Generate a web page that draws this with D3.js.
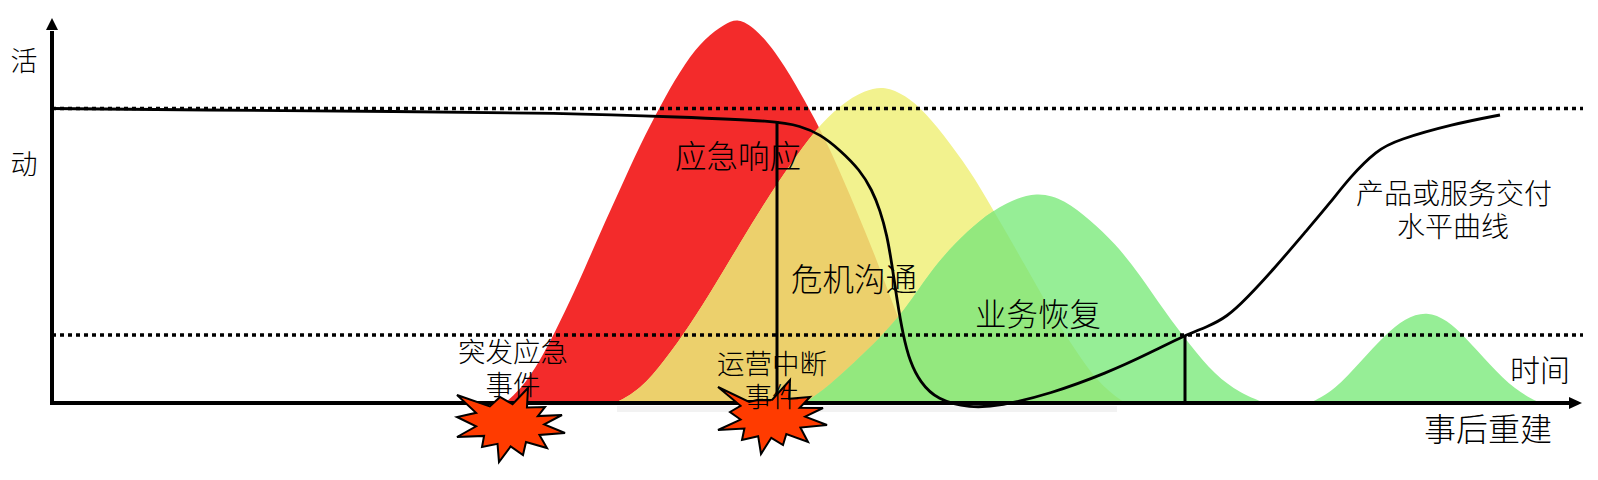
<!DOCTYPE html>
<html>
<head>
<meta charset="utf-8">
<script src="https://cdn.jsdelivr.net/npm/d3@7"></script>
<style>
  html, body { margin: 0; padding: 0; background: #fff; }
  text { font-family: "Noto Sans CJK SC", sans-serif; font-weight: 300; fill: #000; text-anchor: middle; dominant-baseline: central; }
</style>
</head>
<body>
<svg id="chart" width="1598" height="480"></svg>
<script>
// values: t = time along the axis, a = activity level
const responseT = [453, 473, 493, 513, 533, 553, 573, 593, 613, 633, 653, 673, 686, 703, 723, 743, 763, 783, 803, 823, 843, 863, 883, 903];
const responseA = [0, 18, 51, 91, 135, 181, 225, 268, 306, 340, 365, 379, 385, 375, 352, 320, 284, 243, 196, 148, 93, 43, 11, 0];

const crisisT = [563, 588, 613, 638, 663, 688, 713, 738, 763, 788, 813, 833, 853, 873, 898, 923, 948, 973, 998, 1023, 1048, 1073];
const crisisA = [0, 13, 43, 78, 118, 160, 201, 238, 273, 298, 313, 317, 308, 291, 260, 225, 181, 138, 93, 53, 18, 0];

const recoveryT = [753, 778, 803, 828, 853, 878, 903, 928, 953, 985, 1013, 1038, 1063, 1088, 1113, 1138, 1163, 1188, 1213];
const recoveryA = [0, 18, 41, 65, 93, 131, 160, 183, 200, 212, 203, 183, 160, 128, 91, 58, 28, 10, 0];

const rebuildT = [1258, 1283, 1308, 1333, 1353, 1375, 1395, 1413, 1438, 1463, 1488];
const rebuildA = [0, 13, 41, 68, 85, 92, 83, 66, 38, 13, 0];

const deliveryT = [0, 148, 348, 508, 628, 725, 748, 768, 788, 808, 820, 828, 835, 840, 845, 851, 858, 868, 885, 918, 948, 998, 1055, 1098, 1133, 1155, 1175, 1195, 1221, 1255, 1278, 1298, 1325, 1345, 1401, 1448];
const deliveryA = [294.5, 293, 291.5, 290, 286, 282, 277, 269, 253, 233, 213, 193, 168, 138, 103, 68, 41, 21, 3, -5, -3, 9, 30, 50, 68, 76, 86, 105, 133, 173, 200, 226, 253, 263, 279, 288];

const levelA = [294.5, 68];
const dropT = [725, 1133];
const dropTop = [282, 68];

// burst tips, clockwise, as offsets from the event point
const burstOne = [[-53, -30], [-10, -28], [18, -37], [35, -18], [52, -10], [55, 8], [37, 23], [13, 30], [-11, 37], [-28, 22], [-53, 12], [-53, -8]];
const burstTwo = [[-52, -30], [-13, -17], [20, -37], [40, -20], [53, -9], [57, 8], [38, 25], [13, 28], [-9, 37], [-28, 23], [-52, 13], [-40, -5]];
const burstT = [458, 718];
const burstA = [-22, -14];

const labels = [
  ["活", 24, 59, 27], ["动", 24, 162, 27],
  ["应急响应", 738, 154, 31.5], ["危机沟通", 854, 277, 31.5], ["业务恢复", 1038, 312, 31.5],
  ["突发应急", 513, 350, 27.5], ["事件", 513, 383, 27.5],
  ["运营中断", 772, 362, 27.5], ["事件", 772, 395, 27.5],
  ["产品或服务交付", 1454, 192, 28], ["水平曲线", 1453, 225, 28],
  ["时间", 1540, 368, 30], ["事后重建", 1488, 427, 32]
];

const x = d3.scaleLinear().domain([0, 1530]).range([52, 1582]);
const y = d3.scaleLinear().domain([0, 385]).range([403, 18]);

const svg = d3.select("#chart");

const curve = d3.line()
  .x(d => x(d[0]))
  .y(d => y(d[1]))
  .curve(d3.curveBasis);

const area = d3.area()
  .x(d => x(d[0]))
  .y0(y(0))
  .y1(d => y(d[1]))
  .curve(d3.curveBasis);

const response = area(d3.zip(responseT, responseA));
const crisis = area(d3.zip(crisisT, crisisA));
const recovery = area(d3.zip(recoveryT, recoveryA));
const rebuild = area(d3.zip(rebuildT, rebuildA));

svg.append("defs").append("clipPath").attr("id", "crisis-clip")
  .append("path").attr("d", crisis);

svg.append("path").attr("d", response).attr("fill", "#f32b2b");
svg.append("path").attr("d", crisis).attr("fill", "#f2f28e");
svg.append("path").attr("d", response).attr("fill", "#ecd06c").attr("clip-path", "url(#crisis-clip)");
svg.append("path").attr("d", recovery).attr("fill", "#96ee96");
svg.append("path").attr("d", recovery).attr("fill", "#93e87e").attr("clip-path", "url(#crisis-clip)");
svg.append("path").attr("d", rebuild).attr("fill", "#96ee96");

// dotted levels
levelA.forEach(a => {
  svg.append("line")
    .attr("x1", x(0)).attr("x2", x(1531))
    .attr("y1", y(a)).attr("y2", y(a))
    .attr("stroke", "#000").attr("stroke-width", 3.6)
    .attr("stroke-dasharray", "4 4");
});

// drop lines
dropT.forEach((t, i) => {
  svg.append("line")
    .attr("x1", x(t)).attr("x2", x(t))
    .attr("y1", y(dropTop[i])).attr("y2", y(0))
    .attr("stroke", "#000").attr("stroke-width", 3);
});

// faint shadow under the axis
svg.append("line").attr("x1", x(565)).attr("x2", x(1065)).attr("y1", y(0) + 6).attr("y2", y(0) + 6)
  .attr("stroke", "#000").attr("stroke-opacity", 0.05).attr("stroke-width", 6);

// axes
svg.append("line").attr("x1", x(0)).attr("x2", x(1518)).attr("y1", y(0)).attr("y2", y(0))
  .attr("stroke", "#000").attr("stroke-width", 4);
svg.append("line").attr("x1", x(0)).attr("x2", x(0)).attr("y1", y(0) + 2).attr("y2", y(372))
  .attr("stroke", "#000").attr("stroke-width", 4);
svg.append("path")
  .attr("d", d3.line()([[x(1530), y(0)], [x(1517), y(0) - 6], [x(1517), y(0) + 6]]) + "Z");
svg.append("path")
  .attr("d", d3.line()([[x(0), y(385)], [x(0) - 6, y(373)], [x(0) + 6, y(373)]]) + "Z");

svg.append("path")
  .attr("d", curve(d3.zip(deliveryT, deliveryA)))
  .attr("fill", "none").attr("stroke", "#000").attr("stroke-width", 2.8);

// event bursts
[burstOne, burstTwo].forEach((tips, i) => {
  const pts = [];
  tips.forEach((p, k) => {
    const q = tips[(k + 1) % tips.length];
    pts.push(p);
    pts.push([(p[0] + q[0]) * 0.32, (p[1] + q[1]) * 0.32]);
  });
  svg.append("path")
    .attr("d", d3.line()(pts) + "Z")
    .attr("transform", "translate(" + x(burstT[i]) + "," + y(burstA[i]) + ")")
    .attr("fill", "#ff3b00").attr("stroke", "#000").attr("stroke-width", 2)
    .attr("stroke-linejoin", "miter");
});

svg.selectAll("text.lbl").data(labels).join("text")
  .attr("class", "lbl")
  .attr("x", d => d[1]).attr("y", d => d[2])
  .attr("font-size", d => d[3])
  .text(d => d[0]);
</script>
</body>
</html>
